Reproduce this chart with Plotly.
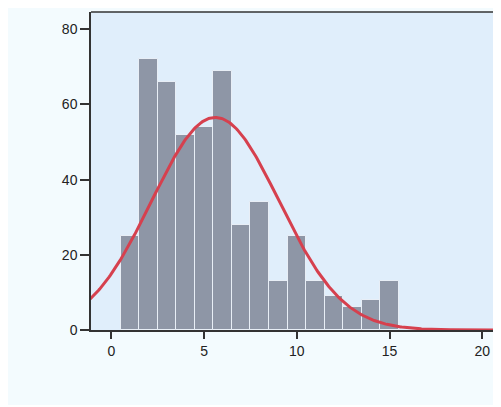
import numpy as np
import plotly.graph_objects as go

# Histogram data (bin centres and counts)
bin_centers = [1, 2, 3, 4, 5, 6, 7, 8, 9, 10, 11, 12, 13, 14, 15]
counts = [25, 72, 66, 52, 54, 69, 28, 34, 13, 25, 13, 9, 6, 8, 13]
x_ticks = [0, 5, 10, 15, 20]
y_ticks = [0, 20, 40, 60, 80]

# Normal curve fitted to the histogram (as statistical packages do)
c = np.array(bin_centers, dtype=float)
n = np.array(counts, dtype=float)
N = n.sum()
mu = (c * n).sum() / N
sd = np.sqrt((n * (c - mu) ** 2).sum() / N)
xc = np.linspace(-1.2, 21.6, 400)
yc = N * 1.0 / (sd * np.sqrt(2 * np.pi)) * np.exp(-0.5 * ((xc - mu) / sd) ** 2)

fig = go.Figure()
fig.add_trace(go.Bar(
    x=bin_centers, y=counts, width=1.0,
    marker=dict(color="#8e96a6", line=dict(color="#e8eef6", width=1)),
    showlegend=False, hoverinfo="skip",
))
fig.add_trace(go.Scatter(
    x=xc, y=yc, mode="lines",
    line=dict(color="#d6404e", width=3),
    showlegend=False, hoverinfo="skip",
))

fig.update_layout(
    width=501, height=397,
    margin=dict(l=83, r=0, t=4, b=75, pad=0),
    paper_bgcolor="#f3fbfe",
    plot_bgcolor="#e0eefb",
    bargap=0,
    font=dict(family="Liberation Sans, Arial, sans-serif", size=14, color="#222222"),
    xaxis=dict(
        range=[-1.096, 21.44], tickvals=x_ticks, ticks="outside", ticklen=7,
        tickwidth=1.5, tickcolor="#333333", showgrid=False, zeroline=False,
        showline=True, linecolor="#333333", linewidth=1.5, fixedrange=True,
    ),
    yaxis=dict(
        range=[0, 84.6], tickvals=y_ticks, ticks="outside", ticklen=9,
        tickwidth=1.5, tickcolor="#333333", showgrid=False, zeroline=False,
        showline=True, linecolor="#333333", linewidth=1.5, fixedrange=True,
    ),
    shapes=[
        dict(type="line", xref="paper", yref="paper", x0=0, x1=1, y0=1, y1=1,
             line=dict(color="#333333", width=1.5)),
    ],
)

fig.write_html(
    "out.html",
    config={"displayModeBar": False},
    post_script="document.documentElement.style.overflow='hidden';document.body.style.overflow='hidden';",
)
